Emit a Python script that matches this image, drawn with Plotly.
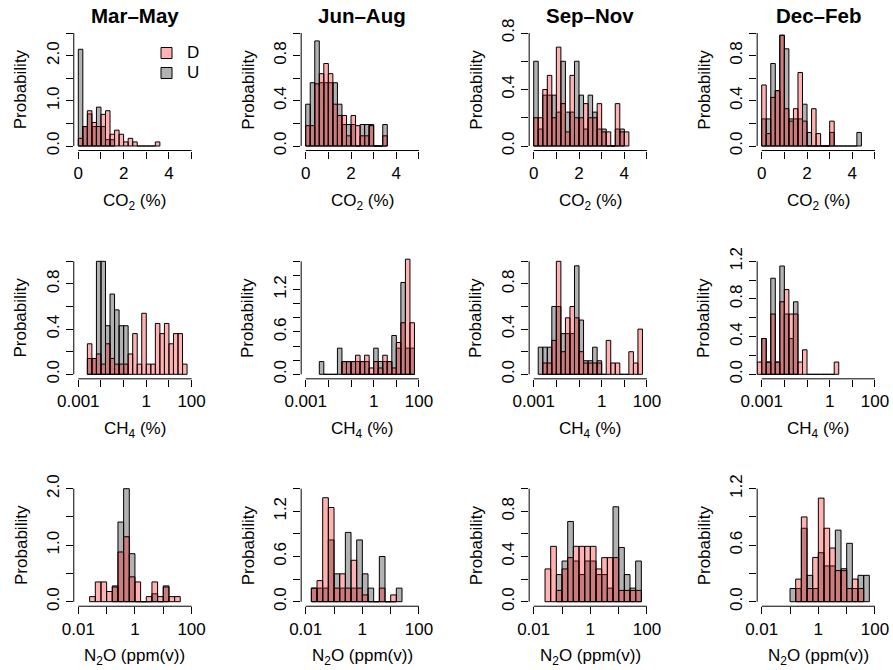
import plotly.graph_objects as go

# ---------------------------------------------------------------------------
# Histogram data: probability density per bin (bin width 0.2 in axis units).
# CO2 bins are in %, CH4 / N2O bins are in log10 units of the concentration.
# Each series gives the left edge of its first bin and the bin heights.
# ---------------------------------------------------------------------------
SEASONS = ["Mar–May", "Jun–Aug", "Sep–Nov", "Dec–Feb"]
BIN_WIDTH = 0.2

# CO2 (%)
CO2_D_START = [0.0, 0.0, 0.0, 0.0]
CO2_U_START = [0.0, 0.0, 0.0, 0.0]
CO2_D_MAM = [0.17, 0.43, 0.78, 0.52, 0.43, 0.70, 0.78, 0.26, 0.35, 0.26, 0.09, 0.17, 0.09, 0, 0, 0, 0, 0.09]
CO2_U_MAM = [2.14, 0.43, 0.71, 0.43, 0.86, 0.43, 0.14, 0.14]
CO2_D_JJA = [0.18, 0.18, 0.55, 0.64, 0.73, 0.64, 0.37, 0.27, 0.27, 0.09, 0.27, 0.18, 0.09, 0.09, 0.18, 0, 0, 0.09]
CO2_U_JJA = [0.37, 0.56, 0.93, 0.56, 0.56, 0.56, 0.56, 0.37, 0.19, 0.19, 0.19, 0, 0.19, 0.19, 0.19, 0, 0, 0.19]
CO2_D_SON = [0.2, 0.2, 0.4, 0.5, 0.2, 0.7, 0.3, 0.1, 0.5, 0.2, 0.2, 0.3, 0.2, 0.2, 0.3, 0.1, 0.1, 0, 0.3, 0.1, 0.1]
CO2_U_SON = [0.6, 0.12, 0.36, 0.36, 0.36, 0.24, 0.6, 0.24, 0.24, 0.6, 0.36, 0.12, 0.36, 0.24, 0.12, 0.12, 0, 0, 0.12, 0.12]
CO2_D_DJF = [0.54, 0.11, 0.43, 0.49, 0.98, 0.33, 0.22, 0.33, 0.65, 0.22, 0, 0.33, 0.11, 0, 0, 0.22]
CO2_U_DJF = [0.24, 0.24, 0.73, 0.49, 0.98, 0.86, 0.24, 0.24, 0.24, 0.37, 0.12, 0, 0, 0, 0, 0.12, 0, 0, 0, 0, 0, 0.12]

# CH4 (log10 %)
CH4_D_START = [-2.6, -1.4, -2.6, -3.2]
CH4_U_START = [-2.6, -2.4, -2.8, -3.0]
CH4_D_MAM = [0.27, 0.14, 0.18, 0.09, 0.27, 0.14, 0.09, 0.09, 0.09, 0.18, 0.36, 0.09, 0.54, 0.09, 0.09, 0.45, 0.36, 0.45, 0.27, 0.36, 0.36, 0.09]
CH4_U_MAM = [0.14, 0.14, 1.0, 1.0, 0.43, 0.71, 0.57, 0.43, 0.43]
CH4_D_JJA = [0.18, 0.18, 0.18, 0.27, 0.18, 0.27, 0.09, 0.18, 0.09, 0.27, 0.18, 0.09, 0.45, 0.73, 1.63, 0.73]
CH4_U_JJA = [0.18, 0, 0, 0, 0.37, 0.18, 0.18, 0.18, 0.18, 0.18, 0.18, 0, 0.37, 0.18, 0.18, 0.18, 0.55, 0.37, 1.3, 0.37, 0.37]
CH4_D_SON = [0.1, 0.1, 0.3, 1.0, 0.2, 0.5, 0.6, 0.5, 0.2, 0.1, 0.1, 0.1, 0.1, 0, 0.3, 0.1, 0.1, 0, 0, 0.2, 0.1, 0.4]
CH4_U_SON = [0.24, 0.24, 0.24, 0.6, 0.6, 0.36, 0.36, 0.36, 0.96, 0.48, 0.12, 0.12, 0.24, 0.12]
CH4_D_DJF = [0.13, 0.38, 0.13, 0.64, 0.13, 0.77, 0.9, 0.64, 0.64, 0.13, 0.26, 0, 0, 0, 0, 0, 0, 0.13]
CH4_U_DJF = [0.38, 0.13, 1.02, 0.13, 1.15, 0.64, 0.38, 0.77]

# N2O (log10 ppm(v))
N2O_D_START = [-1.6, -1.8, -1.6, -0.8]
N2O_U_START = [-0.8, -1.8, -1.2, -1.0]
N2O_D_MAM = [0.09, 0.35, 0.35, 0.18, 0.26, 0.88, 1.15, 0.44, 0.35, 0, 0.09, 0.35, 0.09, 0.26, 0.09, 0.09]
N2O_U_MAM = [0.28, 1.41, 2.0, 0.85, 0, 0, 0, 0.14, 0, 0.28]
N2O_D_JJA = [0.18, 0.28, 1.38, 1.25, 0.18, 0.37, 0.18, 0.55, 0.18, 0.09, 0, 0, 0.18, 0, 0.09]
N2O_U_JJA = [0.18, 0.18, 0.18, 0.82, 0.37, 0.18, 0.92, 0.18, 0.82, 0.37, 0.18, 0, 0.6, 0, 0, 0.18]
N2O_D_SON = [0.29, 0.49, 0.1, 0.29, 0.39, 0.49, 0.49, 0.49, 0.49, 0.29, 0.39, 0.39, 0.39, 0.1, 0.1, 0.1, 0.1]
N2O_U_SON = [0.24, 0.36, 0.71, 0.36, 0.24, 0.36, 0.36, 0.24, 0.24, 0.12, 0.84, 0.48, 0.24, 0.12, 0.36]
N2O_D_DJF = [0.24, 0.9, 0.14, 0.47, 1.1, 0.78, 0.57, 0.33, 0.33, 0.14, 0.24, 0.14]
N2O_U_DJF = [0.14, 0.14, 0.78, 0.28, 0.14, 0.52, 0.38, 0.38, 0.76, 0.35, 0.62, 0.14, 0.28, 0.28]

# Axis ticks
CO2_TICKS = [0, 1, 2, 3, 4, 5]
CO2_LABELS = ["0", "", "2", "", "4", ""]
CH4_TICKS = [-3, -2, -1, 0, 1, 2]
CH4_LABELS = ["0.001", "", "", "1", "", "100"]
N2O_TICKS = [-2, -1, 0, 1, 2]
N2O_LABELS = ["0.01", "", "1", "", "100"]

# y axis: top value, tick step, labelled ticks for every panel (row-major)
Y_TOP = [[2.5, 1.0, 0.8, 1.0], [1.0, 1.6, 1.0, 1.2], [2.0, 1.5, 1.0, 1.2]]
Y_STEP = [[0.5, 0.2, 0.2, 0.2], [0.2, 0.2, 0.2, 0.2], [0.5, 0.3, 0.2, 0.3]]
Y_LABELLED = [
    [[0.0, 1.0, 2.0], [0.0, 0.4, 0.8], [0.0, 0.4, 0.8], [0.0, 0.4, 0.8]],
    [[0.0, 0.4, 0.8], [0.0, 0.6, 1.2], [0.0, 0.4, 0.8], [0.0, 0.4, 0.8, 1.2]],
    [[0.0, 1.0, 2.0], [0.0, 0.6, 1.2], [0.0, 0.4, 0.8], [0.0, 0.6, 1.2]],
]

ROWS = [
    dict(title="CO<sub>2</sub> (%)", lo=0, hi=5, ticks=CO2_TICKS, labels=CO2_LABELS,
         d_start=CO2_D_START, u_start=CO2_U_START,
         d=[CO2_D_MAM, CO2_D_JJA, CO2_D_SON, CO2_D_DJF],
         u=[CO2_U_MAM, CO2_U_JJA, CO2_U_SON, CO2_U_DJF]),
    dict(title="CH<sub>4</sub> (%)", lo=-3, hi=2, ticks=CH4_TICKS, labels=CH4_LABELS,
         d_start=CH4_D_START, u_start=CH4_U_START,
         d=[CH4_D_MAM, CH4_D_JJA, CH4_D_SON, CH4_D_DJF],
         u=[CH4_U_MAM, CH4_U_JJA, CH4_U_SON, CH4_U_DJF]),
    dict(title="N<sub>2</sub>O (ppm(v))", lo=-2, hi=2, ticks=N2O_TICKS, labels=N2O_LABELS,
         d_start=N2O_D_START, u_start=N2O_U_START,
         d=[N2O_D_MAM, N2O_D_JJA, N2O_D_SON, N2O_D_DJF],
         u=[N2O_U_MAM, N2O_U_JJA, N2O_U_SON, N2O_U_DJF]),
]

COL_D = "rgba(255,0,0,0.30)"
COL_U = "rgba(0,0,0,0.30)"
FONT = "Liberation Sans, Arial, Helvetica, sans-serif"

# ---------------------------------------------------------------------------
# Page layout (pixels): position of the first/last x tick and of y=0 / top tick
# ---------------------------------------------------------------------------
W, H = 893, 670
COL_X0 = [78.3, 305.7, 533.7, 761.7]
COL_SPAN = 113.3
ROW_Y0 = [146.0, 374.3, 601.7]
ROW_SPAN = 113.0
EXT = 0.04


def fx(px):
    return px / W


def fy(py):
    return 1 - py / H


fig = go.Figure()
layout = dict(
    width=W, height=H, margin=dict(l=0, r=0, t=0, b=0, autoexpand=False),
    paper_bgcolor="white", plot_bgcolor="white",
    barmode="overlay", showlegend=False,
    font=dict(family=FONT, size=17, color="black"),
)
shapes, annotations = [], []

for r, row in enumerate(ROWS):
    for c in range(4):
        n = r * 4 + c + 1
        xa, ya = f"xaxis{n}", f"yaxis{n}"
        xr, yr = f"x{n}", f"y{n}"

        left = COL_X0[c] - EXT * COL_SPAN
        right = COL_X0[c] + COL_SPAN * (1 + EXT)
        bottom = ROW_Y0[r] + EXT * ROW_SPAN
        top = ROW_Y0[r] - ROW_SPAN * (1 + EXT)

        lo, hi = row["lo"], row["hi"]
        dx = EXT * (hi - lo)
        ytop = Y_TOP[r][c]
        step = Y_STEP[r][c]
        nticks = int(round(ytop / step))
        yticks = [round(i * step, 3) for i in range(nticks + 1)]
        ytext = [f"{v:.1f}" if any(abs(v - l) < 1e-9 for l in Y_LABELLED[r][c]) else "" for v in yticks]

        layout[xa] = dict(
            domain=[fx(left), fx(right)], range=[lo - dx, hi + dx], anchor=yr,
            automargin=False,
            showgrid=False, zeroline=False, showline=False,
            ticks="outside", ticklen=7, tickwidth=1, tickcolor="black",
            tickvals=row["ticks"], ticktext=row["labels"],
            tickfont=dict(size=17), ticklabelstandoff=0,
        )
        layout[ya] = dict(
            domain=[fy(bottom), fy(top)], range=[-EXT * ytop, ytop * (1 + EXT)], anchor=xr,
            automargin=False,
            showgrid=False, zeroline=False, showline=False,
            ticks="outside", ticklen=7, tickwidth=1, tickcolor="black",
            tickvals=yticks, ticktext=ytext, tickangle=-90,
            tickfont=dict(size=17),
        )

        # histograms: U underneath, D on top
        for start, heights, colr in ((row["u_start"][c], row["u"][c], COL_U),
                                     (row["d_start"][c], row["d"][c], COL_D)):
            centers = [start + BIN_WIDTH * (i + 0.5) for i in range(len(heights))]
            fig.add_trace(go.Bar(
                x=centers, y=heights, width=[BIN_WIDTH] * len(heights),
                marker=dict(color=colr, line=dict(color="black", width=1)),
                xaxis=xr, yaxis=yr, hoverinfo="skip",
            ))

        # axis lines spanning first to last tick
        shapes.append(dict(type="line", xref=xr, yref="paper", x0=lo, x1=hi,
                           y0=fy(bottom), y1=fy(bottom), line=dict(color="black", width=1)))
        shapes.append(dict(type="line", xref="paper", yref=yr, x0=fx(left), x1=fx(left),
                           y0=0, y1=ytop, line=dict(color="black", width=1)))

        # axis titles
        annotations.append(dict(text=row["title"], xref="paper", yref="paper",
                                x=fx((left + right) / 2), y=fy(ROW_Y0[r] + 55.7),
                                showarrow=False, font=dict(size=17),
                                xanchor="center", yanchor="middle"))
        annotations.append(dict(text="Probability", xref="paper", yref="paper",
                                x=fx(left - 53), y=fy((top + bottom) / 2), textangle=-90,
                                showarrow=False, font=dict(size=17),
                                xanchor="center", yanchor="middle"))
        if r == 0:
            annotations.append(dict(text=f"<b>{SEASONS[c]}</b>", xref="paper", yref="paper",
                                    x=fx((left + right) / 2), y=fy(15.7),
                                    showarrow=False, font=dict(size=20.5),
                                    xanchor="center", yanchor="middle"))

# legend in the first panel
for i, (name, colr) in enumerate((("D", COL_D), ("U", COL_U))):
    y_mid = 53 + 20 * i
    shapes.append(dict(type="rect", xref="paper", yref="paper",
                       x0=fx(161), x1=fx(172), y0=fy(y_mid + 5.5), y1=fy(y_mid - 5.5),
                       fillcolor=colr, line=dict(color="black", width=1)))
    annotations.append(dict(text=name, xref="paper", yref="paper", x=fx(185), y=fy(y_mid),
                            showarrow=False, font=dict(size=17), xanchor="left", yanchor="middle"))

layout["shapes"] = shapes
layout["annotations"] = annotations
fig.update_layout(**layout)
fig.write_html("out.html")
